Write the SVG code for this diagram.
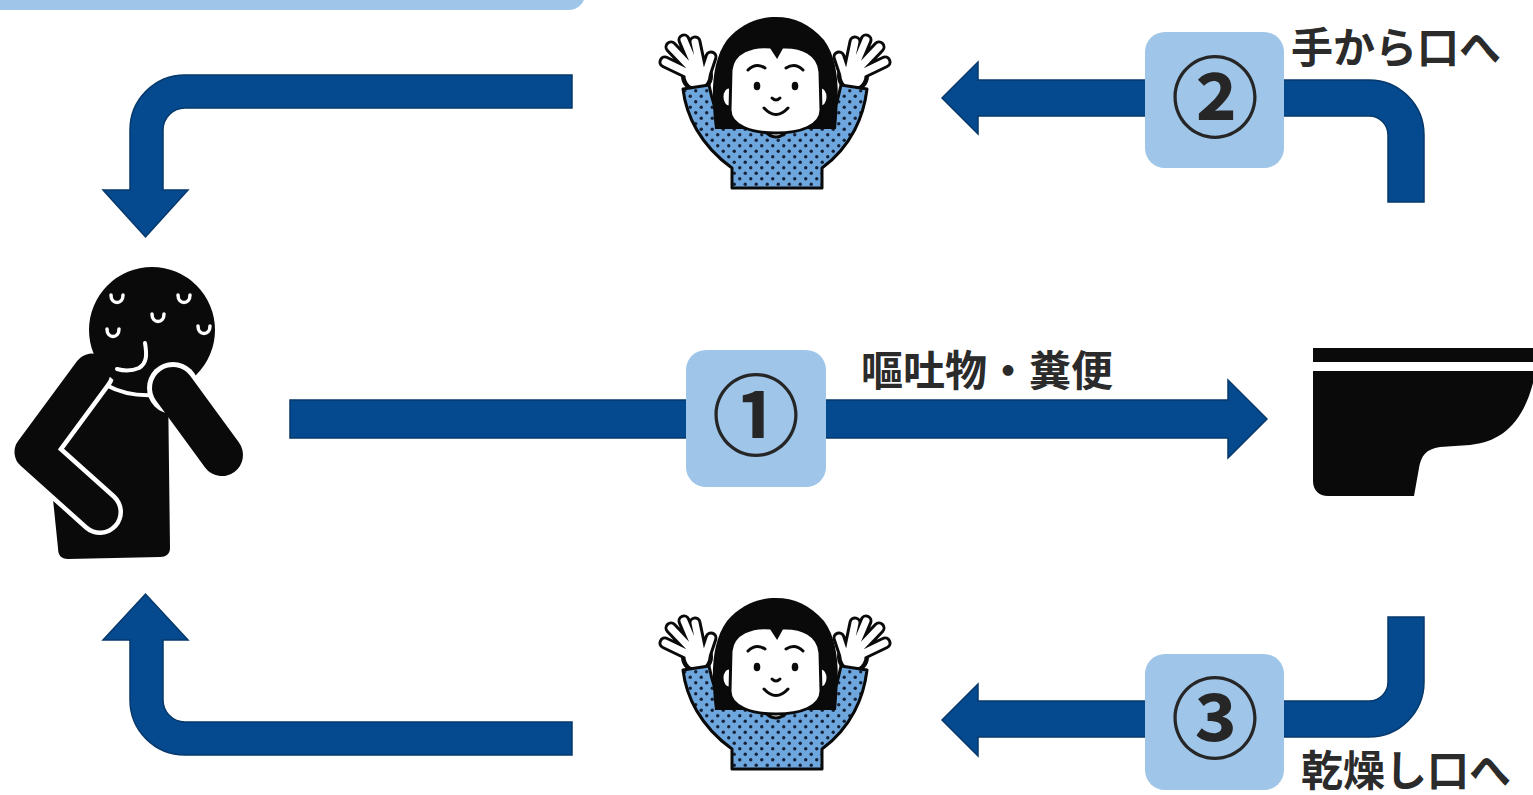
<svg xmlns="http://www.w3.org/2000/svg" xmlns:xlink="http://www.w3.org/1999/xlink" width="1533" height="795" viewBox="0 0 1533 795">
  <style>
    .arrow { fill: #05498e; stroke: #06386b; stroke-width: 1.5; stroke-linejoin: miter; }
    .badge { fill: #9fc5e8; }
    .num { font-family: "Noto Sans CJK JP", "Noto Sans", sans-serif; font-weight: 700; font-size: 88px; fill: #262626; text-anchor: middle; }
    .lbl { font-family: "Noto Sans CJK JP", sans-serif; font-weight: 700; font-size: 42px; fill: #2b2b2b; }
    .ink { fill: #0a0a0a; }
    .line { fill: none; stroke: #0a0a0a; stroke-width: 3; stroke-linecap: round; stroke-linejoin: round; }
    .sweat { fill: none; stroke: #fff; stroke-width: 3.5; stroke-linecap: round; }
  </style>
  <defs>
    <pattern id="dots" width="11" height="11" patternUnits="userSpaceOnUse">
      <rect width="11" height="11" fill="#6ea6de"/>
      <circle cx="2.75" cy="2.75" r="1.7" fill="#152238"/>
      <circle cx="8.25" cy="8.25" r="1.7" fill="#152238"/>
    </pattern>
    <!-- raised hand, left side; mirrored for the right -->
    <g id="hand">
      <circle cx="697" cy="76" r="16" fill="#0a0a0a"/>
      <path d="M697,80 L697,90 M690,74 L665,62 M691,68 L671,47 M695,66 L684,40 M700,66 L695,42 M705,75 L711,57" fill="none" stroke="#0a0a0a" stroke-width="13" stroke-linecap="round"/>
      <circle cx="697" cy="76" r="11.5" fill="#fff"/>
      <path d="M697,80 L697,90 M690,74 L665,62 M691,68 L671,47 M695,66 L684,40 M700,66 L695,42 M705,75 L711,57" fill="none" stroke="#fff" stroke-width="7" stroke-linecap="round"/>
    </g>
    <!-- child with both arms up -->
    <g id="child">
      <use href="#hand"/>
      <use href="#hand" transform="translate(1550,0) scale(-1,1)"/>
      <path d="M683,89 C686,115 700,145 732,168 L732,188 L822,188 L822,168 C852,146 864,115 867,89 L841,85 C838,100 834,113 828,124 L722,124 C716,113 712,100 709,85 Z" fill="url(#dots)" stroke="#0a0a0a" stroke-width="3" stroke-linejoin="round"/>
      <path class="ink" d="M715,129 C711,95 711,62 727,40 C741,24 758,17 776,17 C794,17 810,24 824,40 C840,62 839,95 836,129 Z"/>
      <ellipse cx="729" cy="97" rx="7" ry="10" fill="#fff" stroke="#0a0a0a" stroke-width="3"/>
      <ellipse cx="821" cy="97" rx="7" ry="10" fill="#fff" stroke="#0a0a0a" stroke-width="3"/>
      <path d="M762,128 Q776,146 790,128 Z" fill="#fff" stroke="#0a0a0a" stroke-width="3"/>
      <path d="M731,70 C733,52 752,45 771,47 L777,56 L782,47 C802,46 819,54 820,72 L821,110 C821,126 800,133 776,133 C752,133 730,126 730,110 Z" fill="#fff" stroke="#0a0a0a" stroke-width="3"/>
      <path class="line" d="M748,70 Q756,62 765,68 M786,68 Q795,62 803,70"/>
      <ellipse class="ink" cx="757" cy="86" rx="3.3" ry="4.3"/>
      <ellipse class="ink" cx="795" cy="86" rx="3.3" ry="4.3"/>
      <path class="line" d="M772,98 Q776,102 780,98"/>
      <path class="line" d="M764,108 Q776,121 788,108"/>
    </g>
  </defs>

  <!-- header strip -->
  <rect x="-20" y="-30" width="605" height="40" rx="16" class="badge"/>

  <!-- connectors -->
  <g id="connectors">
    <path class="arrow" d="M572,75 H185 A55,55 0 0 0 130,130 V190 H103 L145.5,237 L188,190 H163 V130 A22,22 0 0 1 185,108 H572 Z"/>
    <path class="arrow" d="M572,755 H185 A55,55 0 0 1 130,700 V640 H103 L145.5,594 L188,640 H163 V700 A22,22 0 0 0 185,722 H572 Z"/>
    <path class="arrow" d="M290,400 H1228 V380 L1267,419 L1228,458 V438 H290 Z"/>
    <path class="arrow" d="M1424,202 V135 A55,55 0 0 0 1369,80 H978 V62 L942,98 L978,134 V116 H1369 A19,19 0 0 1 1388,135 V202 Z"/>
    <path class="arrow" d="M1424,617 V682 A55,55 0 0 1 1369,737 H978 V756 L942,720 L978,684 V701 H1369 A19,19 0 0 0 1388,682 V617 Z"/>
  </g>

  <!-- step badges -->
  <g id="step1">
    <rect x="686" y="350" width="140" height="137" rx="20" class="badge"/>
    <text class="num" x="756" y="448">①</text>
    <text class="lbl" x="861" y="386">嘔吐物・糞便</text>
  </g>
  <g id="step2">
    <rect x="1145" y="32" width="139" height="136" rx="20" class="badge"/>
    <text class="num" x="1215" y="130">②</text>
    <text class="lbl" x="1291" y="63">手から口へ</text>
  </g>
  <g id="step3">
    <rect x="1145" y="654" width="139" height="136" rx="20" class="badge"/>
    <text class="num" x="1215" y="751">③</text>
    <text class="lbl" x="1301" y="786">乾燥し口へ</text>
  </g>

  <!-- sick person -->
  <g id="patient">
    <path class="ink" d="M98,372 L168,384 L170,548 C170,554 166,557 160,557 L68,559 C61,559 58,555 58,548 L50,470 Z"/>
    <polyline points="92,372 33,452 100,512" fill="none" stroke="#fff" stroke-width="46" stroke-linecap="round" stroke-linejoin="round"/>
    <polyline points="92,372 33,452 100,512" fill="none" stroke="#0a0a0a" stroke-width="37" stroke-linecap="round" stroke-linejoin="round"/>
    <circle class="ink" cx="152" cy="330" r="63"/>
    <path d="M106,385 Q128,397 156,395" fill="none" stroke="#fff" stroke-width="4"/>
    <circle cx="173" cy="388" r="26" fill="#fff"/>
    <line x1="173" y1="388" x2="222" y2="455" stroke="#0a0a0a" stroke-width="42" stroke-linecap="round"/>
    <path d="M145,343 C147,355 147,363 139,368 C132,371 124,371 117,369" fill="none" stroke="#fff" stroke-width="4" stroke-linecap="round"/>
    <path class="sweat" d="M111,295 C111,305 123,305 123,295"/>
    <path class="sweat" d="M178,295 C178,305 190,305 190,295"/>
    <path class="sweat" d="M152,314 C152,324 164,324 164,314"/>
    <path class="sweat" d="M107,329 C107,339 119,339 119,329"/>
    <path class="sweat" d="M198,326 C198,336 210,336 210,326"/>
  </g>

  <!-- children -->
  <g id="child-top"><use href="#child"/></g>
  <g id="child-bottom"><use href="#child" transform="translate(0,581)"/></g>

  <!-- toilet -->
  <g id="toilet">
    <rect class="ink" x="1313" y="348" width="220" height="14"/>
    <path class="ink" d="M1313,371 H1533 V383 C1522,425 1500,442 1470,445 L1440,447 C1426,449 1421,456 1419,468 L1414,496 H1328 C1319,496 1313,490 1313,481 Z"/>
  </g>
</svg>
